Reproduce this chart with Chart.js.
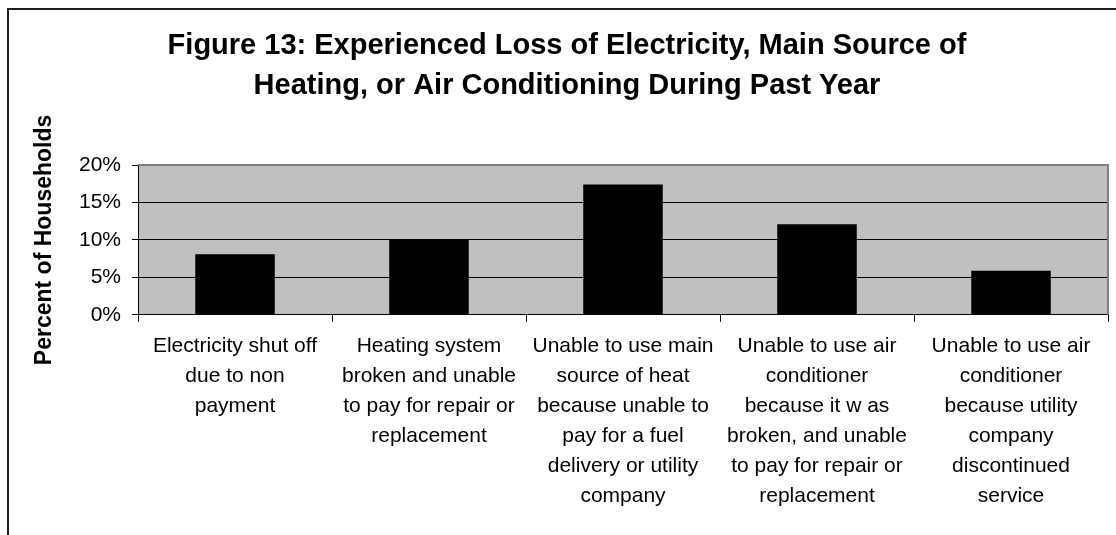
<!DOCTYPE html>
<html>
<head>
<meta charset="utf-8">
<script src="https://cdn.jsdelivr.net/npm/chart.js@4"></script>
<style>
  body { margin: 0; background: #fff; overflow: hidden; }
</style>
</head>
<body>
<canvas id="fig13" width="1116" height="535"></canvas>
<script>
// Figure 13 data
const categories = [
    ['Electricity shut off', 'due to non', 'payment'],
    ['Heating system', 'broken and unable', 'to pay for repair or', 'replacement'],
    ['Unable to use main', 'source of heat', 'because unable to', 'pay for a fuel', 'delivery or utility', 'company'],
    ['Unable to use air', 'conditioner', 'because it w as', 'broken, and unable', 'to pay for repair or', 'replacement'],
    ['Unable to use air', 'conditioner', 'because utility', 'company', 'discontinued', 'service'],
];

const householdPct = [8.1, 10.0, 17.4, 12.1, 5.9];

const yTickValues = [0, 5, 10, 15, 20];

const titleLines = [
    'Figure 13: Experienced Loss of Electricity, Main Source of',
    'Heating, or Air Conditioning During Past Year',
];
const yTitle = 'Percent of Households';

const FONT = "Arial, 'Liberation Sans', sans-serif";

// gray plot area, frame lines and the vertical axis title
const excelLook = {
    id: 'excelLook',
    beforeDraw(chart) {
        const { ctx, chartArea: a } = chart;
        ctx.save();
        ctx.fillStyle = '#fff';
        ctx.fillRect(0, 0, chart.width, chart.height);
        ctx.fillStyle = '#C0C0C0';
        ctx.fillRect(a.left, a.top, a.right - a.left, a.bottom - a.top);
        // outer chart border (cut off at right and bottom)
        ctx.strokeStyle = '#1e1e1e';
        ctx.lineWidth = 2;
        ctx.beginPath();
        ctx.moveTo(8, chart.height + 5);
        ctx.lineTo(8, 9);
        ctx.lineTo(chart.width + 5, 9);
        ctx.stroke();
        ctx.restore();
    },
    afterDraw(chart) {
        const { ctx, chartArea: a } = chart;
        ctx.save();
        ctx.strokeStyle = '#808080';
        ctx.lineWidth = 2;
        ctx.beginPath();
        ctx.moveTo(a.left, a.top);
        ctx.lineTo(a.right, a.top);
        ctx.lineTo(a.right, a.bottom);
        ctx.stroke();

        ctx.translate(45, (a.top + a.bottom) / 2);
        ctx.rotate(-Math.PI / 2);
        ctx.fillStyle = '#000';
        ctx.font = 'bold 23px ' + FONT;
        ctx.textAlign = 'center';
        ctx.textBaseline = 'middle';
        ctx.fillText(yTitle, 0, 0);
        ctx.restore();
    }
};

const fig13Data = {
    labels: categories,
    datasets: [{
        data: householdPct,
        backgroundColor: '#000',
        borderColor: '#000',
        borderWidth: 0,
        barPercentage: 0.41,
        categoryPercentage: 1.0,
    }]
};

const fig13Config = {
    type: 'bar',
    data: fig13Data,
    options: {
        responsive: false,
        animation: false,
        devicePixelRatio: 1,
        layout: {
            padding: { left: 26, right: 8, top: 0, bottom: 15 }
        },
        plugins: {
            legend: { display: false },
            tooltip: { enabled: false },
            title: {
                display: true,
                text: titleLines,
                color: '#000',
                font: { family: FONT, size: 29, weight: 'bold', lineHeight: 1.38 },
                padding: { top: 26, bottom: 59 }
            }
        },
        scales: {
            x: {
                border: { display: true, color: '#000', width: 1 },
                grid: {
                    display: true,
                    offset: true,
                    drawOnChartArea: false,
                    drawTicks: true,
                    tickLength: 7,
                    tickColor: '#000'
                },
                ticks: {
                    color: '#000',
                    padding: 9,
                    maxRotation: 0,
                    autoSkip: false,
                    font: { family: FONT, size: 21, lineHeight: 1.43 }
                }
            },
            y: {
                min: yTickValues[0],
                max: yTickValues[yTickValues.length - 1],
                afterFit(scale) { scale.width = 112; },
                afterBuildTicks(scale) {
                    scale.ticks = yTickValues.map(v => ({ value: v }));
                },
                border: { display: true, color: '#000', width: 1 },
                grid: {
                    color: '#000',
                    lineWidth: 1,
                    drawTicks: true,
                    tickLength: 6,
                    tickColor: '#000'
                },
                ticks: {
                    color: '#000',
                    padding: 11,
                    font: { family: FONT, size: 21 },
                    callback: v => v + '%'
                }
            }
        }
    },
    plugins: [excelLook]
};

const fig13Chart = new Chart(
    document.getElementById('fig13'),
    fig13Config
);
</script>
</body>
</html>
